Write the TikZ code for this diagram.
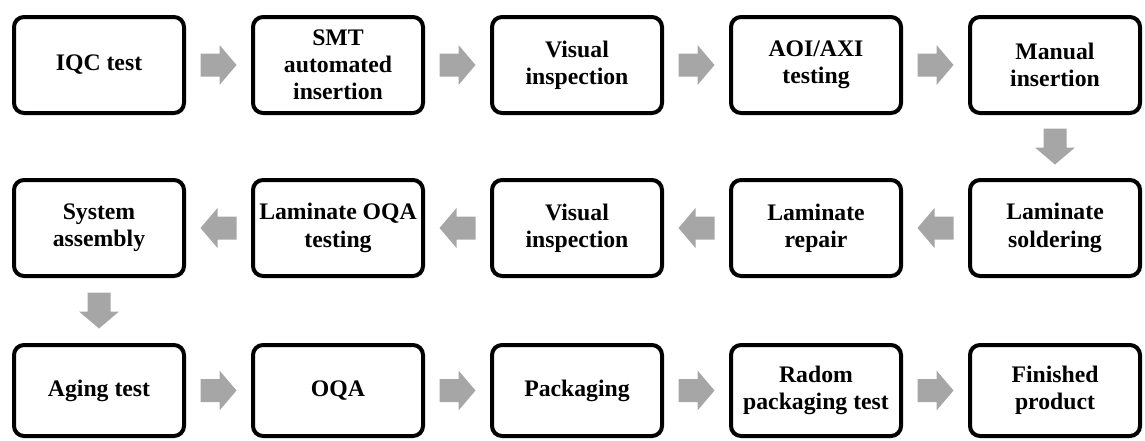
\documentclass[tikz,border=0pt]{standalone}
\usepackage{fontspec}
\setmainfont{Liberation Serif}
\usetikzlibrary{positioning,calc}
\definecolor{flowgray}{HTML}{A6A6A6}

\tikzset{
	stage/.style={draw=black, line width=0.08cm, rounded corners=0.2cm,
		minimum width=3.40cm, minimum height=1.92cm, inner sep=1pt,
		align=center, font=\bfseries\fontsize{13.5}{15.5}\selectfont},
	laststage/.style={minimum height=1.82cm},
	flowarrow/.pic={
		\fill[flowgray] (-0.36,-0.23) -- (0.02,-0.23) -- (0.02,-0.40) -- (0.36,0)
			-- (0.02,0.40) -- (0.02,0.23) -- (-0.36,0.23) -- cycle;
	}
}

\begin{document}
\begin{tikzpicture}
		\useasboundingbox (0,0) rectangle (22.9,-8.8);
		% first row, left to right
		\node[stage] (iqc) at (1.98,-1.3) {IQC test};
		\node[stage, right=1.30cm of iqc] (smt) {SMT\\automated\\insertion};
		\node[stage, right=1.30cm of smt] (vis1) {Visual\\inspection};
		\node[stage, right=1.30cm of vis1] (aoi) {AOI/AXI\\testing};
		\node[stage, right=1.30cm of aoi] (manual) {Manual\\insertion};
		% second row, right to left
		\node[stage, below=1.26cm of manual] (solder) {Laminate\\soldering};
		\node[stage, left=1.30cm of solder] (repair) {Laminate\\repair};
		\node[stage, left=1.30cm of repair] (vis2) {Visual\\inspection};
		\node[stage, left=1.30cm of vis2] (lamoqa) {Laminate OQA\\testing};
		\node[stage, left=1.30cm of lamoqa] (sysasm) {System\\assembly};
		% third row, left to right
		\node[stage, laststage, below=1.30cm of sysasm] (aging) {Aging test};
		\node[stage, laststage, right=1.30cm of aging] (oqa) {OQA};
		\node[stage, laststage, right=1.30cm of oqa] (pack) {Packaging};
		\node[stage, laststage, right=1.30cm of pack] (radom) {Radom\\packaging test};
		\node[stage, laststage, right=1.30cm of radom] (finish) {Finished\\product};

		\pic at ($(iqc.east)!0.5!(smt.west)$) {flowarrow};
		\pic at ($(smt.east)!0.5!(vis1.west)$) {flowarrow};
		\pic at ($(vis1.east)!0.5!(aoi.west)$) {flowarrow};
		\pic at ($(aoi.east)!0.5!(manual.west)$) {flowarrow};
		\pic[rotate=-90] at ($(manual.south)!0.5!(solder.north)$) {flowarrow};
		\pic[rotate=180] at ($(solder.west)!0.5!(repair.east)$) {flowarrow};
		\pic[rotate=180] at ($(repair.west)!0.5!(vis2.east)$) {flowarrow};
		\pic[rotate=180] at ($(vis2.west)!0.5!(lamoqa.east)$) {flowarrow};
		\pic[rotate=180] at ($(lamoqa.west)!0.5!(sysasm.east)$) {flowarrow};
		\pic[rotate=-90] at ($(sysasm.south)!0.5!(aging.north)$) {flowarrow};
		\pic at ($(aging.east)!0.5!(oqa.west)$) {flowarrow};
		\pic at ($(oqa.east)!0.5!(pack.west)$) {flowarrow};
		\pic at ($(pack.east)!0.5!(radom.west)$) {flowarrow};
		\pic at ($(radom.east)!0.5!(finish.west)$) {flowarrow};
	\end{tikzpicture}
\end{document}
